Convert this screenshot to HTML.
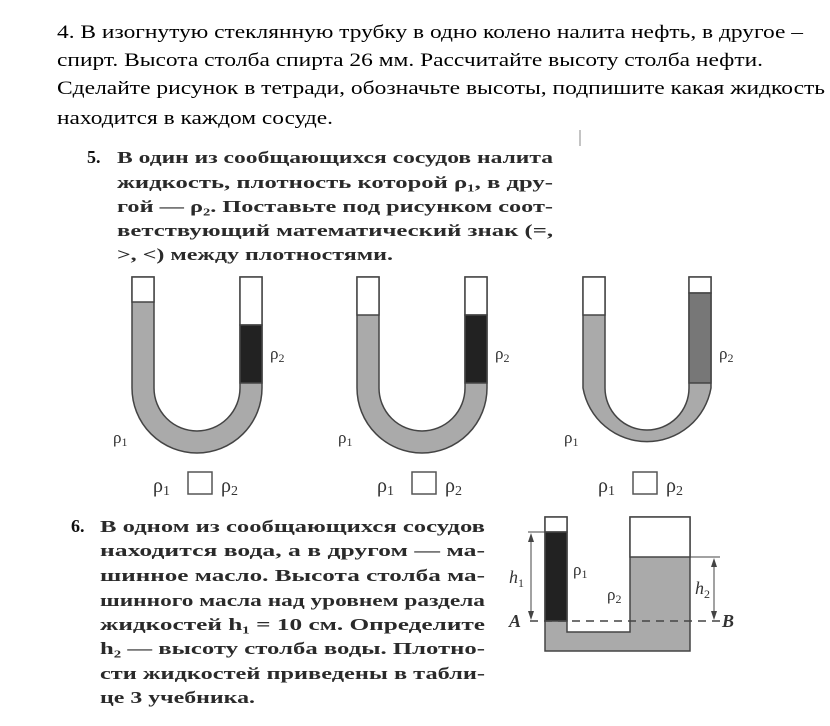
<!DOCTYPE html>
<html><head><meta charset="utf-8"><style>
body{margin:0;background:#fff;}
svg{display:block}
.t{font-family:"Liberation Serif",serif;font-size:19px;fill:#000}
.b{font-family:"Liberation Serif",serif;font-size:17px;font-weight:bold;fill:#2a2a2a}
.n{font-family:"Liberation Serif",serif;font-size:18px;font-weight:bold;fill:#111}
.r{font-family:"Liberation Serif",serif;font-size:17px;fill:#333}
.rb{font-family:"Liberation Serif",serif;font-size:20px;fill:#333}
.i{font-family:"Liberation Serif",serif;font-style:italic;font-size:18px;fill:#333}
</style></head><body>
<svg width="830" height="726" viewBox="0 0 830 726">
<text class="t" x="57" y="38" textLength="746" lengthAdjust="spacingAndGlyphs">4. В изогнутую стеклянную трубку в одно колено налита нефть, в другое –</text>
<text class="t" x="57" y="66" textLength="706" lengthAdjust="spacingAndGlyphs">спирт. Высота столба спирта 26 мм. Рассчитайте высоту столба нефти.</text>
<text class="t" x="57" y="94" textLength="768" lengthAdjust="spacingAndGlyphs">Сделайте рисунок в тетради, обозначьте высоты, подпишите какая жидкость</text>
<text class="t" x="57" y="124" textLength="276" lengthAdjust="spacingAndGlyphs">находится в каждом сосуде.</text>
<line x1="580" y1="130" x2="580" y2="146" stroke="#888" stroke-width="1"/>

<text class="n" x="87" y="163">5.</text>
<text class="b" x="117" y="163" textLength="436" lengthAdjust="spacingAndGlyphs">В один из сообщающихся сосудов налита</text>
<text class="b" x="117" y="188" textLength="436" lengthAdjust="spacingAndGlyphs">жидкость, плотность которой ρ₁, в дру-</text>
<text class="b" x="117" y="212" textLength="436" lengthAdjust="spacingAndGlyphs">гой — ρ₂. Поставьте под рисунком соот-</text>
<text class="b" x="117" y="236" textLength="436" lengthAdjust="spacingAndGlyphs">ветствующий математический знак (=,</text>
<text class="b" x="117" y="260" textLength="276" lengthAdjust="spacingAndGlyphs">&gt;, &lt;) между плотностями.</text>

<g stroke="#444" stroke-width="1.5">
<path d="M132,277 L132,388 A65,65 0 0 0 262,388 L262,277 L240,277 L240,388 A43,43 0 0 1 154,388 L154,277 Z" fill="#aaa"/>
<rect x="132" y="277" width="22" height="25" fill="#fff"/>
<rect x="240" y="277" width="22" height="48" fill="#fff"/>
<rect x="240" y="325" width="22" height="58" fill="#222"/>
</g>
<text class="r" x="270" y="359">ρ<tspan font-size="12" dy="3">2</tspan></text><text class="r" x="113" y="443">ρ<tspan font-size="12" dy="3">1</tspan></text>
<text class="rb" x="153" y="492">ρ<tspan font-size="14" dy="3">1</tspan></text><rect x="188" y="472" width="24" height="22" fill="none" stroke="#555" stroke-width="1.5"/><text class="rb" x="221" y="492">ρ<tspan font-size="14" dy="3">2</tspan></text>

<g stroke="#444" stroke-width="1.5">
<path d="M357,277 L357,388 A65,65 0 0 0 487,388 L487,277 L465,277 L465,388 A43,43 0 0 1 379,388 L379,277 Z" fill="#aaa"/>
<rect x="357" y="277" width="22" height="38" fill="#fff"/>
<rect x="465" y="277" width="22" height="38" fill="#fff"/>
<rect x="465" y="315" width="22" height="68" fill="#222"/>
</g>
<text class="r" x="495" y="359">ρ<tspan font-size="12" dy="3">2</tspan></text><text class="r" x="338" y="443">ρ<tspan font-size="12" dy="3">1</tspan></text>
<text class="rb" x="377" y="492">ρ<tspan font-size="14" dy="3">1</tspan></text><rect x="412" y="472" width="24" height="22" fill="none" stroke="#555" stroke-width="1.5"/><text class="rb" x="445" y="492">ρ<tspan font-size="14" dy="3">2</tspan></text>

<g stroke="#444" stroke-width="1.5">
<path d="M583,277 L583,388 A65,65 0 0 0 711,388 L711,277 L689,277 L689,388 A42,42 0 0 1 605,388 L605,277 Z" fill="#aaa"/>
<rect x="583" y="277" width="22" height="38" fill="#fff"/>
<rect x="689" y="277" width="22" height="16" fill="#fff"/>
<rect x="689" y="293" width="22" height="90" fill="#777"/>
</g>
<text class="r" x="719" y="359">ρ<tspan font-size="12" dy="3">2</tspan></text><text class="r" x="564" y="443">ρ<tspan font-size="12" dy="3">1</tspan></text>
<text class="rb" x="598" y="492">ρ<tspan font-size="14" dy="3">1</tspan></text><rect x="633" y="472" width="24" height="22" fill="none" stroke="#555" stroke-width="1.5"/><text class="rb" x="666" y="492">ρ<tspan font-size="14" dy="3">2</tspan></text>

<text class="n" x="71" y="532">6.</text>
<text class="b" x="100" y="532" textLength="385" lengthAdjust="spacingAndGlyphs">В одном из сообщающихся сосудов</text>
<text class="b" x="100" y="556" textLength="385" lengthAdjust="spacingAndGlyphs">находится вода, а в другом — ма-</text>
<text class="b" x="100" y="581" textLength="385" lengthAdjust="spacingAndGlyphs">шинное масло. Высота столба ма-</text>
<text class="b" x="100" y="606" textLength="385" lengthAdjust="spacingAndGlyphs">шинного масла над уровнем раздела</text>
<text class="b" x="100" y="630" textLength="385" lengthAdjust="spacingAndGlyphs">жидкостей h₁ = 10 см. Определите</text>
<text class="b" x="100" y="654" textLength="385" lengthAdjust="spacingAndGlyphs">h₂ — высоту столба воды. Плотно-</text>
<text class="b" x="100" y="679" textLength="385" lengthAdjust="spacingAndGlyphs">сти жидкостей приведены в табли-</text>
<text class="b" x="100" y="703" textLength="155" lengthAdjust="spacingAndGlyphs">це 3 учебника.</text>

<g stroke="#444" stroke-width="1.5">
<path d="M545,517 L545,651 L690,651 L690,517 L630,517 L630,632 L567,632 L567,517 Z" fill="#aaa"/>
<rect x="545" y="517" width="22" height="15" fill="#fff"/>
<rect x="545" y="532" width="22" height="89" fill="#222"/>
<rect x="630" y="517" width="60" height="40" fill="#fff"/>
</g>
<line x1="530" y1="621" x2="722" y2="621" stroke="#444" stroke-width="1.5" stroke-dasharray="8,6"/>
<line x1="528" y1="532" x2="545" y2="532" stroke="#444"/>
<line x1="690" y1="557" x2="720" y2="557" stroke="#444"/>
<line x1="531" y1="536" x2="531" y2="617" stroke="#444"/>
<path d="M531,533 l-3,9 h6z M531,620 l-3,-9 h6z" fill="#444"/>
<line x1="714" y1="561" x2="714" y2="617" stroke="#444"/>
<path d="M714,558 l-3,9 h6z M714,620 l-3,-9 h6z" fill="#444"/>
<text class="i" x="509" y="583">h<tspan font-size="12" dy="4" font-style="normal">1</tspan></text>
<text class="i" x="695" y="594">h<tspan font-size="12" dy="4" font-style="normal">2</tspan></text>
<text class="r" x="573" y="575">ρ<tspan font-size="12" dy="3">1</tspan></text>
<text class="r" x="607" y="600">ρ<tspan font-size="12" dy="3">2</tspan></text>
<text class="i" x="509" y="627" font-weight="bold">A</text>
<text class="i" x="722" y="627" font-weight="bold">B</text>
</svg>
</body></html>
